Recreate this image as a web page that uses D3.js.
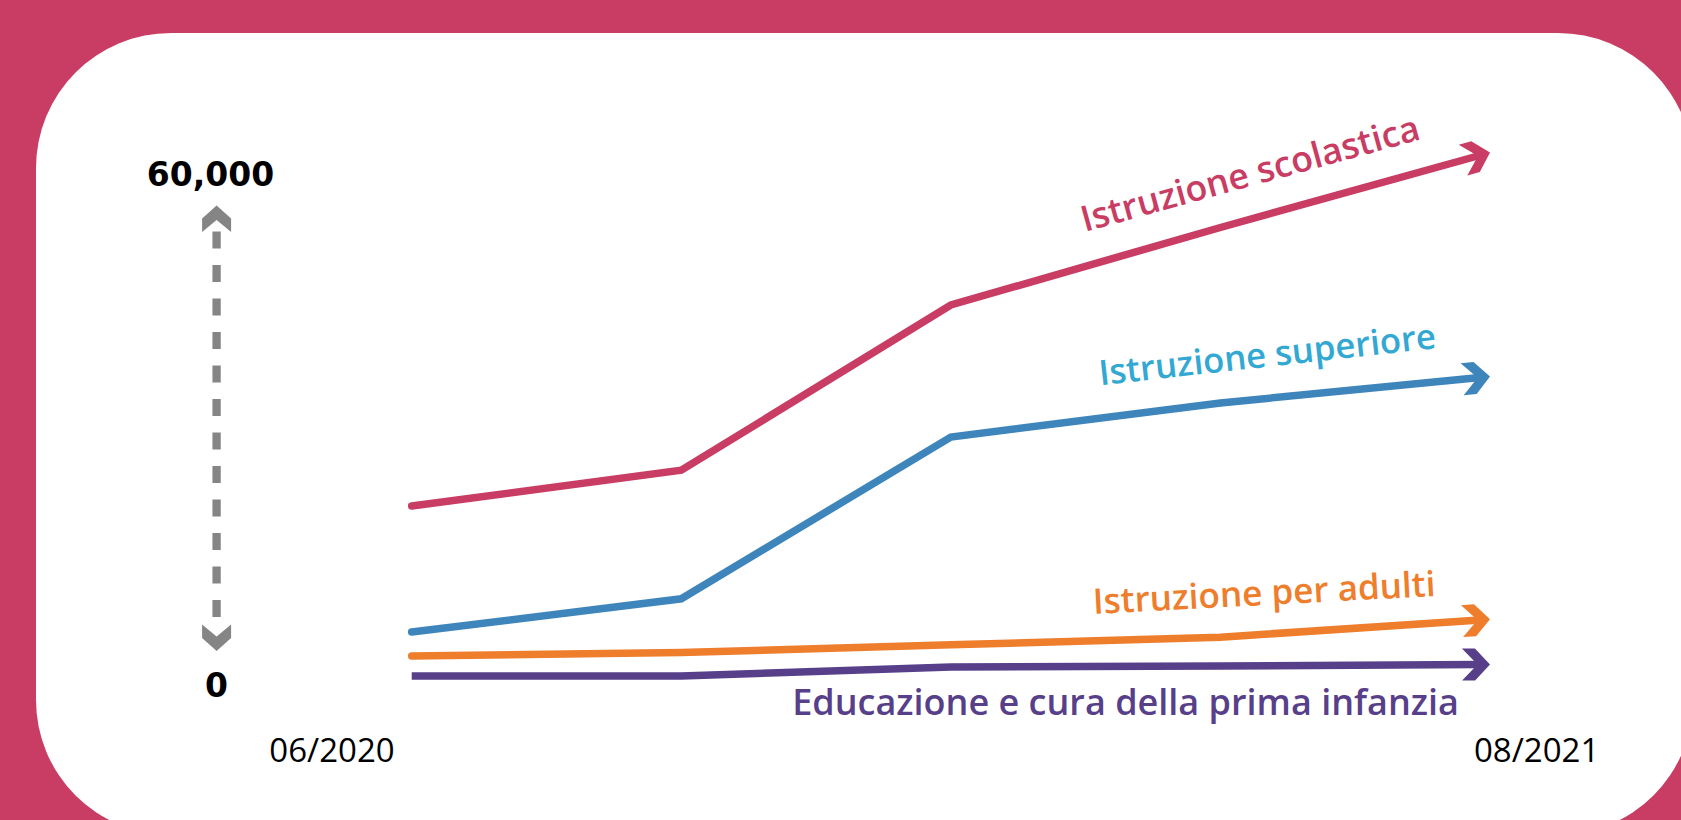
<!DOCTYPE html>
<html>
<head>
<meta charset="utf-8">
<script src="https://cdn.jsdelivr.net/npm/d3@7"></script>
<style>
  html, body { margin: 0; padding: 0; background: #C93C63; overflow: hidden; }
  svg { display: block; }
</style>
</head>
<body>
<svg id="chart" width="1681" height="820"></svg>
<script>
// ---------------- data ----------------
const periods = [0, 1, 2, 3, 4];
const xTickLabels = ["06/2020", "08/2021"];
const yTickValues = [0, 60000];

const seriesNames = [
  "Istruzione scolastica",
  "Istruzione superiore",
  "Istruzione per adulti",
  "Educazione e cura della prima infanzia"
];
const scolastica = [20900, 25100, 44500, 53600, 62400];
const superiore  = [6100, 10000, 29000, 33000, 36100];
const adulti     = [3300, 3700, 4600, 5500, 7600];
const infanzia   = [950, 950, 2000, 2100, 2300];

// ---------------- styles / layout ----------------
const bgColor = "#C93C63";
const lineColors  = ["#C93C63", "#3E85BC", "#EE7D2C", "#573F8A"];
const labelColors = ["#C93C63", "#33A8D3", "#EE7D2C", "#573F8A"];
const caps = ["round", "round", "round", "butt"];
// label end-anchor, rotation, target width
const labelLayout = [
  { x: 1422, y: 139, angle: -15.4, w: 350 },
  { x: 1437, y: 348, angle: -6.3,  w: 339 },
  { x: 1436, y: 596, angle: -3.0,  w: 343 },
  { x: 1459, y: 715, angle: 0,     w: 667 }
];

const svg = d3.select("#chart");

// white rounded panel
svg.append("rect")
  .attr("x", 36).attr("y", 33)
  .attr("width", 1657).attr("height", 802)
  .attr("rx", 135).attr("ry", 135)
  .attr("fill", "#ffffff");

const x = d3.scaleLinear().domain(d3.extent(periods)).range([411.7, 1490]);
const y = d3.scaleLinear().domain([0, 60000]).range([684, 173]);

const allSeries = [scolastica, superiore, adulti, infanzia];

// markers (chevron arrow heads)
const defs = svg.append("defs");
lineColors.forEach((c, i) => {
  defs.append("marker")
    .attr("id", "arrow" + i)
    .attr("markerUnits", "userSpaceOnUse")
    .attr("viewBox", "-32 -20 40 40")
    .attr("markerWidth", 40).attr("markerHeight", 40)
    .attr("refX", -10).attr("refY", 0)
    .attr("orient", "auto")
    .append("path")
    .attr("d", "M0,0 L-15,-16 L-28,-16 L-12.5,0 L-28,16 L-15,16 Z")
    .attr("fill", c);
});

const line = d3.line().x(d => d[0]).y(d => d[1]);

allSeries.forEach((vals, i) => {
  const pts = periods.map((p, k) => [x(p), y(vals[k])]);
  // pull the final vertex back so the arrow tip lands on the last point
  const n = pts.length;
  const [ax, ay] = pts[n - 2], [bx, by] = pts[n - 1];
  const len = Math.hypot(bx - ax, by - ay);
  pts[n - 1] = [bx - (bx - ax) / len * 10, by - (by - ay) / len * 10];
  svg.append("path")
    .attr("d", line(pts))
    .attr("fill", "none")
    .attr("stroke", lineColors[i])
    .attr("stroke-width", 7.5)
    .attr("stroke-linecap", caps[i])
    .attr("stroke-linejoin", "miter")
    .attr("marker-end", `url(#arrow${i})`);
});

// series labels
seriesNames.forEach((name, i) => {
  const L = labelLayout[i];
  const t = svg.append("text")
    .attr("transform", `translate(${L.x},${L.y}) rotate(${L.angle})`)
    .attr("text-anchor", "end")
    .attr("fill", labelColors[i])
    .attr("font-family", "'Open Sans', sans-serif")
    .attr("font-weight", 600)
    .attr("font-size", 100)
    .text(name);
  const w = t.node().getComputedTextLength();
  t.attr("font-size", 100 * L.w / w);
});

// value axis: dashed double arrow
const axX = 216.6;
const gray = "#858585";
const topTip = y(60000) + 32.5, botTip = y(0) - 33;
svg.append("line")
  .attr("x1", axX).attr("x2", axX)
  .attr("y1", topTip + 26).attr("y2", botTip - 34)
  .attr("stroke", gray).attr("stroke-width", 8.3)
  .attr("stroke-dasharray", "17 16.5");
svg.append("path")
  .attr("d", `M${axX},${topTip} l14.5,13 l0,13.5 l-14.5,-12 l-14.5,12 l0,-13.5 Z`)
  .attr("fill", gray);
svg.append("path")
  .attr("d", `M${axX},${botTip} l14.5,-13 l0,-13.5 l-14.5,12 l-14.5,-12 l0,13.5 Z`)
  .attr("fill", gray);

const fmt = d3.format(",");
svg.selectAll("text.ytick")
  .data(yTickValues)
  .enter().append("text")
  .attr("class", "ytick")
  .attr("x", d => d === 0 ? 216.6 : 210.5)
  .attr("y", d => y(d) + 12.5)
  .attr("text-anchor", "middle")
  .attr("font-family", "'DejaVu Sans', sans-serif")
  .attr("font-weight", "bold")
  .attr("font-size", 33)
  .attr("fill", "#000")
  .text(d => fmt(d));

// time tick labels (first and last period)
const xTickPos = [
  { x: x(periods[0]) - 17, anchor: "end" },
  { x: x(periods[periods.length - 1]) - 16, anchor: "start" }
];
xTickLabels.forEach((lab, i) => {
  svg.append("text")
    .attr("x", xTickPos[i].x)
    .attr("y", 762)
    .attr("text-anchor", xTickPos[i].anchor)
    .attr("font-family", "'Open Sans', sans-serif")
    .attr("font-size", 33)
    .attr("fill", "#000")
    .text(lab);
});
</script>
</body>
</html>
